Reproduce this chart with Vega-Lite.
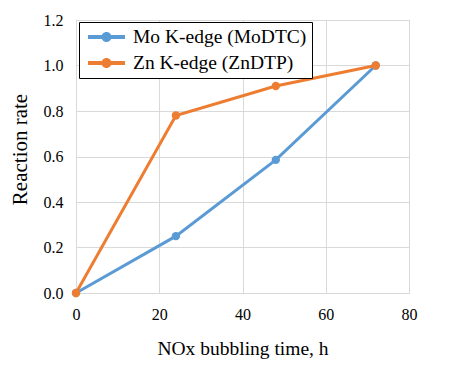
{
  "$schema": "https://vega.github.io/schema/vega-lite/v6.json",
  "width": 333,
  "height": 273,
  "autosize": {"type": "none"},
  "padding": {"left": 76, "top": 20, "right": 40, "bottom": 78},
  "background": "white",
  "config": {
    "font": "Liberation Serif",
    "view": {"stroke": "#d9d9d9", "strokeWidth": 1}
  },
  "data": {
    "values": [
      {"t": 0, "rate": 0.0, "series": "Mo K-edge (MoDTC)"},
      {"t": 24, "rate": 0.25, "series": "Mo K-edge (MoDTC)"},
      {"t": 48, "rate": 0.585, "series": "Mo K-edge (MoDTC)"},
      {"t": 72, "rate": 1.0, "series": "Mo K-edge (MoDTC)"},
      {"t": 0, "rate": 0.0, "series": "Zn K-edge (ZnDTP)"},
      {"t": 24, "rate": 0.78, "series": "Zn K-edge (ZnDTP)"},
      {"t": 48, "rate": 0.91, "series": "Zn K-edge (ZnDTP)"},
      {"t": 72, "rate": 1.0, "series": "Zn K-edge (ZnDTP)"}
    ]
  },
  "mark": {"type": "line", "strokeWidth": 3, "point": {"size": 70, "filled": true, "opacity": 1}},
  "encoding": {
    "x": {
      "field": "t", "type": "quantitative",
      "scale": {"domain": [0, 80], "nice": false},
      "axis": {
        "title": "NOx bubbling time, h", "values": [0, 20, 40, 60, 80],
        "titleFont": "Liberation Serif",
        "titleFontSize": 19.5, "titleFontWeight": "normal", "titleColor": "#000",
        "titlePadding": 17,
        "labelFont": "Liberation Serif",
        "labelFontSize": 16, "labelColor": "#000", "labelPadding": 13,
        "ticks": false, "domain": true, "domainColor": "#d9d9d9",
        "grid": true, "gridColor": "#d9d9d9", "labelFlush": false
      }
    },
    "y": {
      "field": "rate", "type": "quantitative",
      "scale": {"domain": [0, 1.2], "nice": false},
      "axis": {
        "title": "Reaction rate", "values": [0, 0.2, 0.4, 0.6, 0.8, 1.0, 1.2], "format": ".1f",
        "titleFont": "Liberation Serif",
        "titleFontSize": 21, "titleFontWeight": "normal", "titleColor": "#000",
        "titlePadding": 13, "titleY": 129,
        "labelFont": "Liberation Serif",
        "labelFontSize": 16, "labelColor": "#000", "labelPadding": 13,
        "ticks": false, "domain": true, "domainColor": "#d9d9d9",
        "grid": true, "gridColor": "#d9d9d9", "labelFlush": false
      }
    },
    "color": {
      "field": "series", "type": "nominal",
      "scale": {"domain": ["Mo K-edge (MoDTC)", "Zn K-edge (ZnDTP)"], "range": ["#5b9bd5", "#ed7d31"]},
      "legend": {
        "title": null, "orient": "none", "legendX": 3, "legendY": 2,
        "labelFont": "Liberation Serif",
        "labelFontSize": 19.5, "labelColor": "#000", "labelLimit": 300,
        "strokeColor": "#000", "fillColor": "white", "padding": 5,
        "symbolType": "M-0.6,-0.2H3.1V0.2H-0.6Z M1.75,0A0.5,0.5 0 1,1 0.75,0A0.5,0.5 0 1,1 1.75,0Z",
        "symbolSize": 400, "symbolStrokeWidth": 0,
        "rowPadding": 6, "labelOffset": 29,
        "encode": {"symbols": {"update": {"fill": {"scale": "color", "field": "value"}, "fillOpacity": {"value": 1}}}}
      }
    }
  }
}
